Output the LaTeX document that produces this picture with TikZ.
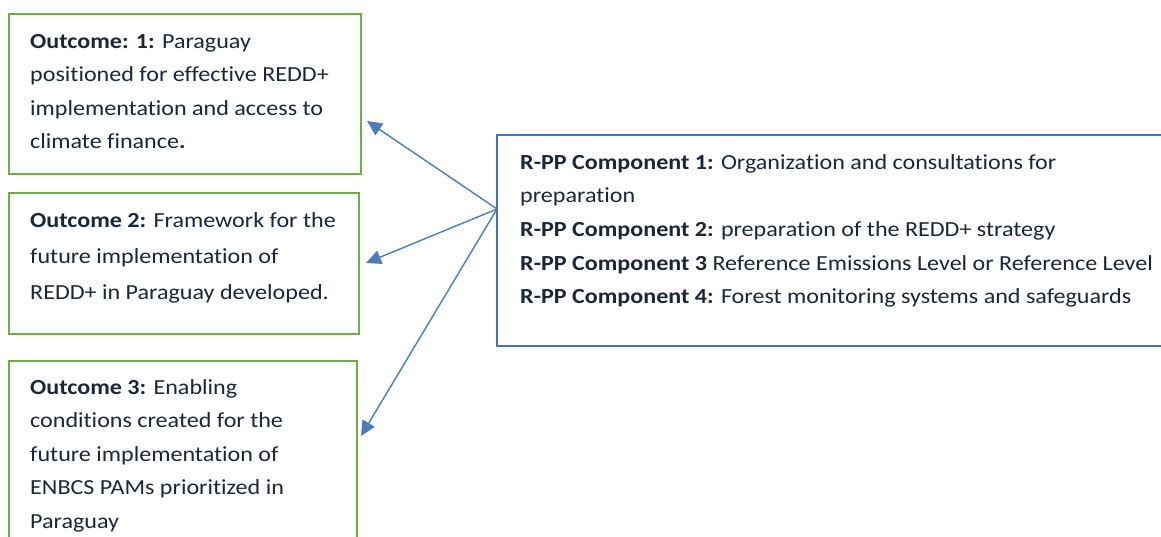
\documentclass[tikz,border=0pt]{standalone}
\usepackage{fontspec}
\setmainfont{Carlito}[Ligatures=NoCommon, FakeStretch=1.12]
\usetikzlibrary{arrows.meta,calc}
\definecolor{gline}{HTML}{70AD47}
\definecolor{bline}{HTML}{4472C4}
\definecolor{aline}{HTML}{4A7EBB}
\definecolor{txt}{HTML}{1B2638}
\tikzset{
  gbox/.style={draw=gline, line width=2.5pt, rectangle, inner sep=0pt, outer sep=0pt, anchor=north west},
  bbox/.style={draw=bline, line width=2.5pt, rectangle, inner sep=0pt, outer sep=0pt, anchor=north west},
  txtnode/.style={anchor=north west, inner sep=0pt, align=left, text=txt, font=\fontsize{21.5}{33.5}\selectfont},
  conn/.style={draw=aline, line width=1.4pt, -{Triangle[length=15pt,width=14pt]}}
}
\begin{document}
\begin{tikzpicture}[x=1pt,y=-1pt]
\useasboundingbox (0,0) rectangle (1161,537);
\clip (0,0) rectangle (1161,537);
\fill[white] (0,0) rectangle (1161,537);
% outcome boxes
\node[gbox, minimum width=352pt, minimum height=160pt] (o1) at (9,14) {};
\node[gbox, minimum width=350pt, minimum height=141pt] (o2) at (9,193) {};
\node[gbox, minimum width=348pt, minimum height=240pt] (o3) at (9,361) {};
\node[bbox, minimum width=690pt, minimum height=211pt] (rpp) at (497,135) {};
% texts
\node[txtnode] (t1) at ($(o1.north west)+(21,20)$) {\textbf{Outcome: 1:} Paraguay\\positioned for effective REDD+\\implementation and access to\\climate finance\textbf{.}};
\node[txtnode, font=\fontsize{21.5}{36}\selectfont] (t2) at ($(o2.north west)+(21,19)$) {\textbf{Outcome 2:} Framework for the\\future implementation of\\REDD+ in Paraguay developed.};
\node[txtnode] (t3) at ($(o3.north west)+(21,18)$) {\textbf{Outcome 3:} Enabling\\conditions created for the\\future implementation of\\ENBCS PAMs prioritized in\\Paraguay};
\node[txtnode, font=\fontsize{21.5}{33.7}\selectfont] (t4) at ($(rpp.north west)+(23,19)$) {\textbf{R-PP Component 1:} Organization and consultations for\\preparation\\\textbf{R-PP Component 2:} preparation of the REDD+ strategy\\\textbf{R-PP Component 3} Reference Emissions Level or Reference Level\\\textbf{R-PP Component 4:} Forest monitoring systems and safeguards};
% connectors
\coordinate (s) at ($(rpp.north west)+(0,74)$);
\coordinate (e1) at ($(o1.north east)+(6,107)$);
\coordinate (e2) at ($(o2.north east)+(7,70)$);
\coordinate (e3) at ($(o3.north east)+(4,75)$);
\draw[conn] (s) -- (e1);
\draw[conn] (s) -- (e2);
\draw[conn] (s) -- (e3);
\end{tikzpicture}
\end{document}
